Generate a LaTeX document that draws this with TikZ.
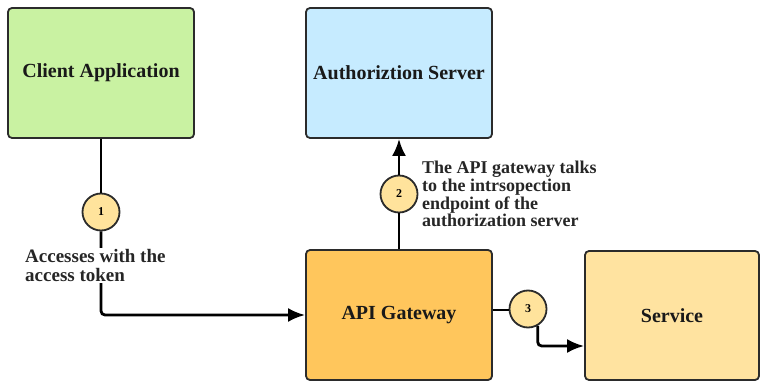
\documentclass[tikz,border=0pt]{standalone}
\usepackage{fontspec}
\setmainfont{Liberation Serif}
\usetikzlibrary{arrows.meta}
\definecolor{bord}{HTML}{2B2B2B}
\definecolor{cgreen}{HTML}{C9F2A2}
\definecolor{cblue}{HTML}{C6EBFF}
\definecolor{corange}{HTML}{FFC65C}
\definecolor{cservice}{HTML}{FFE3A0}
\definecolor{cstep}{HTML}{FFE39C}
\tikzset{
  box/.style={draw=bord, line width=1.8pt, rounded corners=4pt, minimum width=186pt, minimum height=130pt, inner sep=0pt, font=\fontsize{20}{22}\selectfont\bfseries, text=black!90},
  stepnum/.style={circle, draw=bord, line width=1.8pt, fill=cstep, minimum size=37pt, inner sep=0pt, font=\fontsize{12}{12}\selectfont\bfseries},
  conn/.style={draw=black, line width=2.8pt, rounded corners=4pt},
  arr/.style={conn, -{Latex[length=17pt,width=14pt]}},
  lbl/.style={align=left, inner sep=1pt, text=black!85}
}
\begin{document}
\begin{tikzpicture}[x=1pt,y=-1pt]
\useasboundingbox (0,0) rectangle (762,382);
\node[box, fill=cgreen] (client) at (101,73) {Client Application};
\node[box, fill=cblue] (auth) at (399,73) {Authoriztion Server};
\node[box, fill=corange] (api) at (399,315) {API Gateway};
\node[box, fill=cservice, minimum width=174pt, minimum height=129pt] (service) at (672,315.5) {Service};
\node[stepnum] (c1) at (101,212) {1};
\node[stepnum] (c2) at (399,194) {2};
\node[stepnum] (c3) at (528,309) {3};
% connector 1
\draw[conn] (client.south) -- (c1);
\draw[arr] (c1.south) |- (api.west);
\node[lbl, fill=white, anchor=north west, font=\fontsize{19}{19.5}\selectfont\bfseries] (t1) at (24,248) {Accesses with the\\access token};
% connector 2
\draw[conn] (api.north) -- (c2);
\draw[arr] (c2.north) -- (auth.south);
\node[lbl, anchor=north west, font=\fontsize{18}{17.7}\selectfont\bfseries] (t2) at (421,160) {The API gateway talks\\to the intrsopection\\endpoint of the\\authorization server};
% connector 3
\draw[conn] ([yshift=5pt]api.east) -- ([yshift=5pt]api.east -| c3.west);
\draw[arr] (c3.-60) |- ([yshift=-30.5pt]service.west);
\end{tikzpicture}
\end{document}
